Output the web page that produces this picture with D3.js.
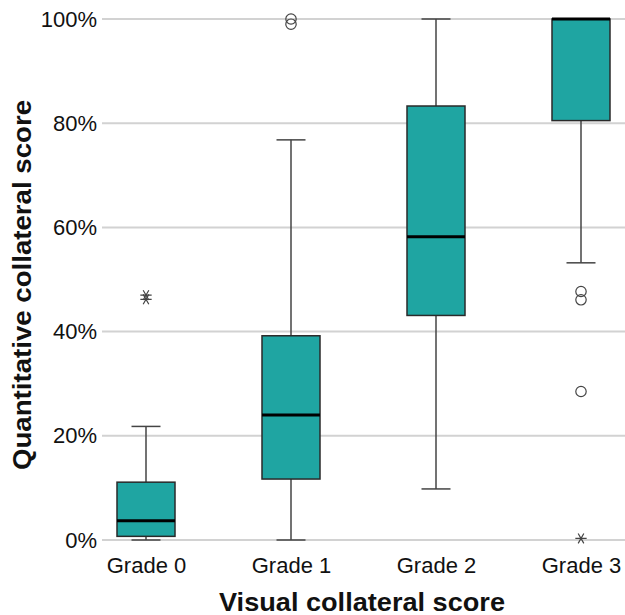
<!DOCTYPE html>
<html>
<head>
<meta charset="utf-8">
<script src="https://cdn.jsdelivr.net/npm/d3@7"></script>
<style>
  html, body { margin: 0; padding: 0; background: #fff; }
  svg { display: block; }
  text { font-family: "Liberation Sans", Arial, sans-serif; }
</style>
</head>
<body>
<svg id="chart" width="625" height="615"></svg>
<script>
const categories = ["Grade 0", "Grade 1", "Grade 2", "Grade 3"];
const whiskerLow  = [0,    0,    9.8,  53.2];
const q1          = [0.7,  11.7, 43.1, 80.5];
const median      = [3.7,  24.0, 58.2, 100];
const q3          = [11.1, 39.2, 83.3, 100];
const whiskerHigh = [21.8, 76.8, 100,  100];
const outlierCats   = ["Grade 1", "Grade 1", "Grade 3", "Grade 3", "Grade 3"];
const outlierValues = [100, 99, 47.7, 46.1, 28.5];
const extremeCats   = ["Grade 0", "Grade 0", "Grade 3"];
const extremeValues = [47.0, 46.2, 0.3];
const yTicks = [0, 20, 40, 60, 80, 100];

const svg = d3.select("#chart");
const plotLeft = 102, plotRight = 625;
const y = d3.scaleLinear().domain([0, 100]).range([540, 19]);
const x = d3.scalePoint().domain(categories).range([146, 581]);
const boxW = 58, capW = 29;
const fill = "#1fa5a2";

// gridlines
svg.append("g").selectAll("line").data(yTicks).join("line")
  .attr("x1", plotLeft).attr("x2", plotRight)
  .attr("y1", d => y(d)).attr("y2", d => y(d))
  .attr("stroke", "#d2d2d2").attr("stroke-width", 2);

// y axis labels
const yAxis = d3.axisLeft(y).tickValues(yTicks).tickFormat(d => d + "%").tickSize(0).tickPadding(0);
const gy = svg.append("g").attr("transform", `translate(97,0)`).call(yAxis);
gy.select(".domain").remove();
gy.selectAll("text").attr("font-size", 22).attr("fill", "#111")
  .attr("font-family", "'Liberation Sans', Arial, sans-serif");

// x axis labels
const xAxis = d3.axisBottom(x).tickSize(0).tickPadding(0);
const gx = svg.append("g").attr("transform", `translate(0,557)`).call(xAxis);
gx.select(".domain").remove();
gx.selectAll("text").attr("font-size", 22).attr("fill", "#111")
  .attr("font-family", "'Liberation Sans', Arial, sans-serif");

const data = categories.map((c, i) => ({
  c, lo: whiskerLow[i], q1: q1[i], med: median[i], q3: q3[i], hi: whiskerHigh[i]
}));

const g = svg.append("g");
// whiskers
g.selectAll(".wlow").data(data).join("line")
  .attr("x1", d => x(d.c)).attr("x2", d => x(d.c))
  .attr("y1", d => y(d.q1)).attr("y2", d => y(d.lo))
  .attr("stroke", "#444").attr("stroke-width", 1.5);
g.selectAll(".whigh").data(data).join("line")
  .attr("x1", d => x(d.c)).attr("x2", d => x(d.c))
  .attr("y1", d => y(d.q3)).attr("y2", d => y(d.hi))
  .attr("stroke", "#444").attr("stroke-width", 1.5);
// caps
g.selectAll(".capl").data(data).join("line")
  .attr("x1", d => x(d.c) - capW / 2).attr("x2", d => x(d.c) + capW / 2)
  .attr("y1", d => y(d.lo)).attr("y2", d => y(d.lo))
  .attr("stroke", "#444").attr("stroke-width", 1.5);
g.selectAll(".caph").data(data).join("line")
  .attr("x1", d => x(d.c) - capW / 2).attr("x2", d => x(d.c) + capW / 2)
  .attr("y1", d => y(d.hi)).attr("y2", d => y(d.hi))
  .attr("stroke", "#444").attr("stroke-width", 1.5);
// boxes
g.selectAll("rect").data(data).join("rect")
  .attr("x", d => x(d.c) - boxW / 2).attr("width", boxW)
  .attr("y", d => y(d.q3)).attr("height", d => y(d.q1) - y(d.q3))
  .attr("fill", fill).attr("stroke", "#2a2a2a").attr("stroke-width", 1.5);
// medians
g.selectAll(".med").data(data).join("line")
  .attr("x1", d => x(d.c) - boxW / 2).attr("x2", d => x(d.c) + boxW / 2)
  .attr("y1", d => y(d.med)).attr("y2", d => y(d.med))
  .attr("stroke", "#000").attr("stroke-width", 3);

// outliers
const outliers = outlierCats.map((c, i) => ({ c, v: outlierValues[i] }));
g.selectAll(".out").data(outliers).join("circle")
  .attr("cx", d => x(d.c)).attr("cy", d => y(d.v)).attr("r", 5.2)
  .attr("fill", "none").attr("stroke", "#444").attr("stroke-width", 1.2);

// extremes (asterisks)
const extremes = extremeCats.map((c, i) => ({ c, v: extremeValues[i] }));
const star = d3.symbol().type(d3.symbolAsterisk).size(90);
g.selectAll(".ext").data(extremes).join("path")
  .attr("d", star)
  .attr("transform", d => `translate(${x(d.c)},${y(d.v)}) rotate(90)`)
  .attr("fill", "none").attr("stroke", "#444").attr("stroke-width", 1.2);

// axis titles
svg.append("text")
  .attr("x", 362).attr("y", 611)
  .attr("text-anchor", "middle")
  .attr("font-size", 25).attr("font-weight", "bold").attr("fill", "#111")
  .attr("textLength", 286).attr("lengthAdjust", "spacingAndGlyphs")
  .text("Visual collateral score");

svg.append("text")
  .attr("transform", "translate(31,285) rotate(-90)")
  .attr("text-anchor", "middle")
  .attr("font-size", 26).attr("font-weight", "bold").attr("fill", "#111")
  .attr("textLength", 370).attr("lengthAdjust", "spacingAndGlyphs")
  .text("Quantitative collateral score");
</script>
</body>
</html>
